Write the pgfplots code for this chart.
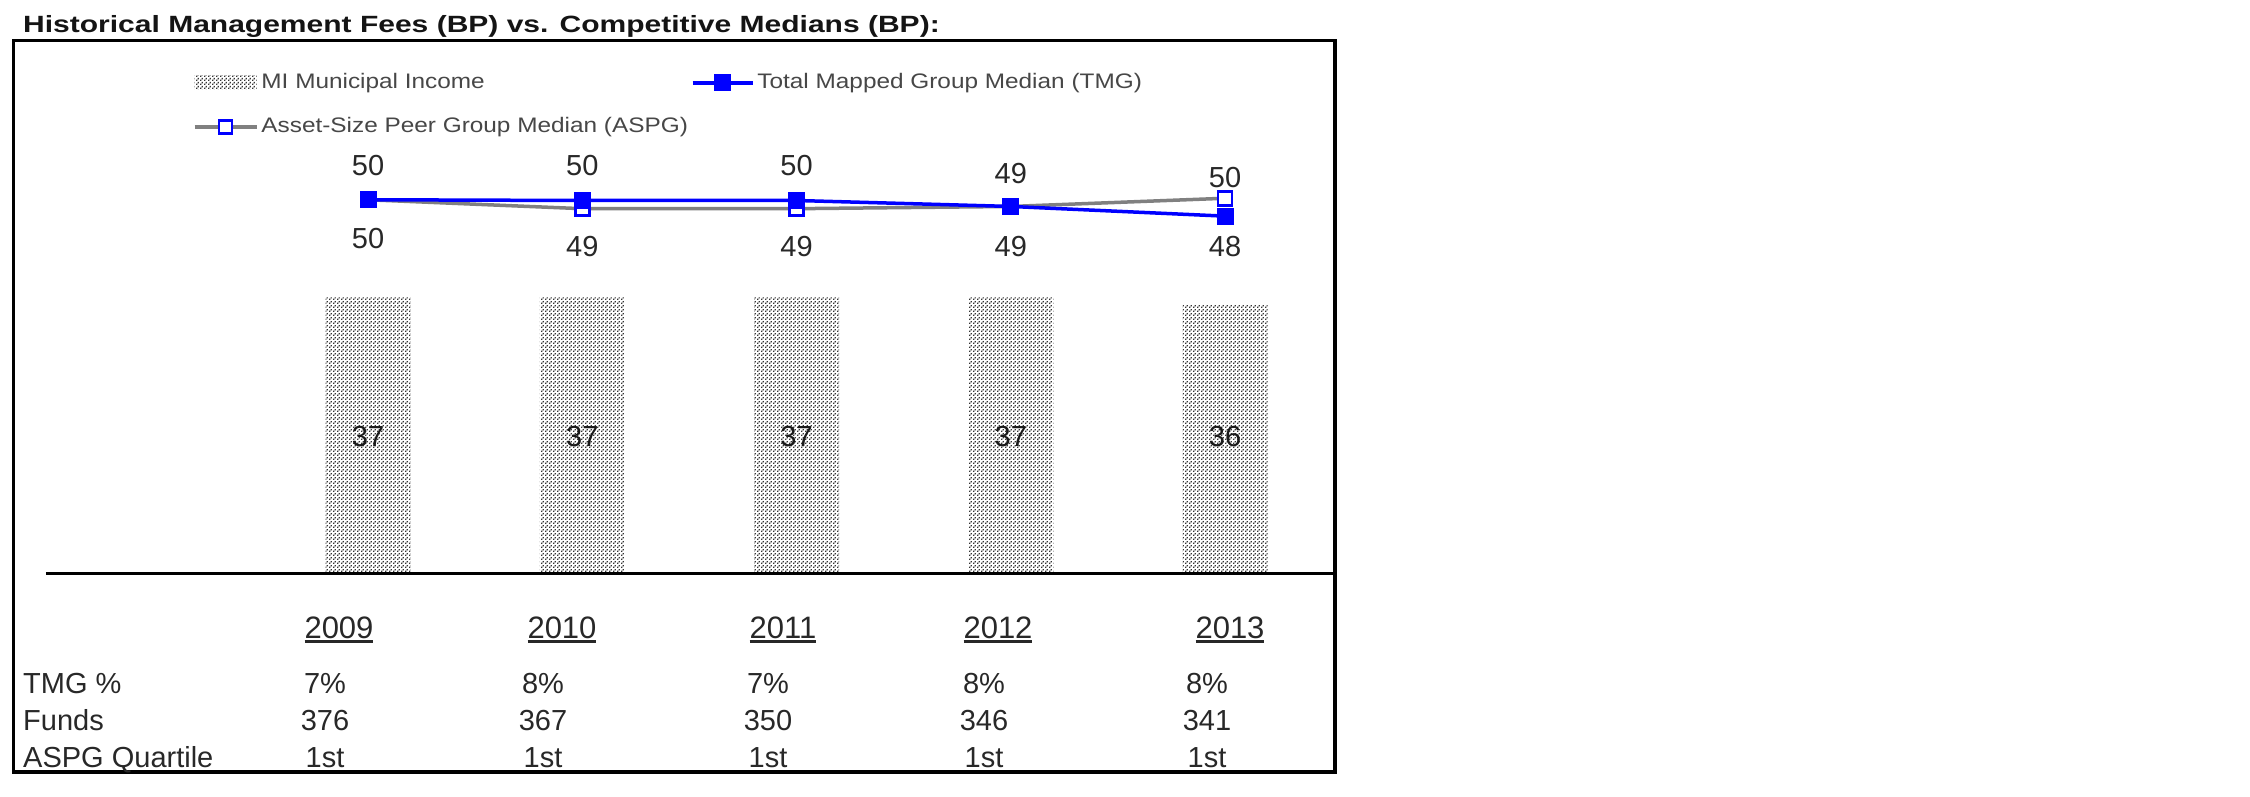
\documentclass[border=0pt]{standalone}
\usepackage{fontspec}
\setmainfont{Liberation Sans}
\usepackage{graphicx}
\usepackage{pgfplots}
\usepackage{pgfplotstable}
\pgfplotsset{compat=1.18}
\usetikzlibrary{patterns}
\pgfdeclarepatternformonly{mydots}{\pgfpointorigin}{\pgfpoint{3.5pt}{3.5pt}}{\pgfpoint{3.5pt}{3.5pt}}{%
  \pgfpathrectangle{\pgfpointorigin}{\pgfpoint{1.6pt}{1.6pt}}%
  \pgfpathrectangle{\pgfpoint{1.75pt}{1.75pt}}{\pgfpoint{1.6pt}{1.6pt}}%
  \pgfusepath{fill}}
\definecolor{tmgblue}{RGB}{0,0,255}
\definecolor{aspggray}{RGB}{128,128,128}
\definecolor{txt}{RGB}{40,40,40}
\newcommand\ul[1]{\leavevmode\setbox0\hbox{#1}\rlap{\rule[-4.5pt]{\wd0}{3pt}}\box0}

\pgfplotsset{
  milegend/.style={legend image code/.code={\fill[##1,draw=none] (0pt,-7pt) rectangle (62pt,7pt);}},
  tmglegend/.style={legend image code/.code={\draw[mark repeat=2,mark phase=2,##1] plot coordinates {(0pt,0pt) (30pt,0pt) (60pt,0pt)};}},
  aspglegend/.style={legend image code/.code={\draw[mark repeat=2,mark phase=2,##1] plot coordinates {(0pt,0pt) (31pt,0pt) (62pt,0pt)};}},
}

\pgfplotstableread{
x mi tmg aspg
0 37 50.1 50.1
1 37 50.0 48.9
2 37 50.0 48.9
3 37 49.2 49.2
4 36 47.9 50.3
}\maindata
\pgfplotstableread{
x y lab
0 54.7 50
1 54.7 50
2 54.7 50
3 53.6 49
4 53.1 50
}\upperlabels
\pgfplotstableread{
x y lab
0 44.9 50
1 43.8 49
2 43.8 49
3 43.8 49
4 43.8 48
}\lowerlabels
\pgfplotstableread{
x y lab
0 18.3 37
1 18.3 37
2 18.3 37
3 18.3 37
4 18.3 36
}\barlabels

\begin{document}
\begin{tikzpicture}
\fill[white] (0pt,0pt) rectangle (2250pt,796pt);
% title
\node[anchor=base west, inner sep=0pt, text=black!92] at (23pt,763pt)
  {\scalebox{1.277}[1]{\fontsize{23.5}{28}\selectfont\bfseries Historical Management Fees (BP) vs. Competitive Medians (BP):}};
% frame
\draw[line width=3pt] (13pt,24pt) rectangle (1335pt,755pt);
\draw[line width=4.5pt] (13pt,24pt) -- (1335pt,24pt) -- (1335pt,755pt);

\begin{axis}[
  at={(46pt,223pt)}, anchor=south west,
  scale only axis, width=1289pt, height=447pt,
  xmin=-1.503, xmax=4.513, ymin=0, ymax=60,
  hide axis, clip=false,
  legend columns=2,
  legend cell align=left,
  legend style={at={(0.114,1.1186)}, anchor=north west, draw=none, fill=none,
    inner sep=0pt, outer sep=0pt, column sep=3pt, row sep=24pt,
    font=\fontsize{21}{25}\selectfont, text=black!72,
    nodes={inner sep=0pt, text height=15.5pt, text depth=4.5pt}},
]
\addplot[ybar, bar width=85pt, bar shift=0pt, draw=none, pattern=mydots, pattern color=black!80, milegend]
  table[x=x, y=mi] {\maindata};
\addlegendentry{\scalebox{1.16}[1]{MI Municipal Income}}

\addplot[color=aspggray, line width=3.5pt, mark=square*, mark size=7pt,
  mark options={draw=tmgblue, fill=white, line width=2.5pt, solid}, forget plot]
  table[x=x, y=aspg] {\maindata};

\addplot[color=tmgblue, line width=3.5pt, mark=square*, mark size=8pt,
  mark options={fill=tmgblue, line width=1pt, solid}, tmglegend]
  table[x=x, y=tmg] {\maindata};
\addlegendentry{\scalebox{1.16}[1]{Total Mapped Group Median (TMG)}}

\addlegendimage{color=aspggray, line width=3.5pt, mark=square*, mark size=6.5pt,
  mark options={draw=tmgblue, fill=white, line width=2.5pt, solid}, aspglegend}
\addlegendentry{\scalebox{1.16}[1]{Asset-Size Peer Group Median (ASPG)}}

\addplot[draw=none, no marks, forget plot, nodes near coords, point meta=explicit symbolic,
  every node near coord/.append style={anchor=center, inner sep=0pt, font=\fontsize{29}{34}\selectfont, text=txt}]
  table[x=x, y=y, meta=lab] {\upperlabels};
\addplot[draw=none, no marks, forget plot, nodes near coords, point meta=explicit symbolic,
  every node near coord/.append style={anchor=center, inner sep=0pt, font=\fontsize{29}{34}\selectfont, text=txt}]
  table[x=x, y=y, meta=lab] {\lowerlabels};
\addplot[draw=none, no marks, forget plot, nodes near coords, point meta=explicit symbolic,
  every node near coord/.append style={anchor=center, inner sep=0pt, font=\fontsize{29}{34}\selectfont, text=black!90}]
  table[x=x, y=y, meta=lab] {\barlabels};

\draw[line width=3pt] (axis cs:-1.503,0) -- (axis cs:4.513,0);
\end{axis}

% years
\foreach \x/\t in {339/2009, 562/2010, 783/2011, 998/2012, 1230/2013}
  \node[anchor=base, inner sep=0pt, text=txt] at (\x pt,158pt) {\fontsize{31}{36}\selectfont\ul{\t}};
% table rows
\node[anchor=base west, inner sep=0pt, text=txt] at (23pt,103pt) {\fontsize{29}{34}\selectfont TMG \%};
\node[anchor=base west, inner sep=0pt, text=txt] at (23pt,66pt) {\fontsize{29}{34}\selectfont Funds};
\node[anchor=base west, inner sep=0pt, text=txt] at (23pt,29pt) {\fontsize{29}{34}\selectfont ASPG Quartile};
\foreach \x/\a/\b in {325/7/376, 543/8/367, 768/7/350, 984/8/346, 1207/8/341}{
  \node[anchor=base, inner sep=0pt, text=txt] at (\x pt,103pt) {\fontsize{29}{34}\selectfont \a\%};
  \node[anchor=base, inner sep=0pt, text=txt] at (\x pt,66pt) {\fontsize{29}{34}\selectfont \b};
  \node[anchor=base, inner sep=0pt, text=txt] at (\x pt,29pt) {\fontsize{29}{34}\selectfont 1st};
}
\pgfresetboundingbox
\path[use as bounding box] (0pt,0pt) rectangle (2250pt,796pt);
\end{tikzpicture}
\end{document}
